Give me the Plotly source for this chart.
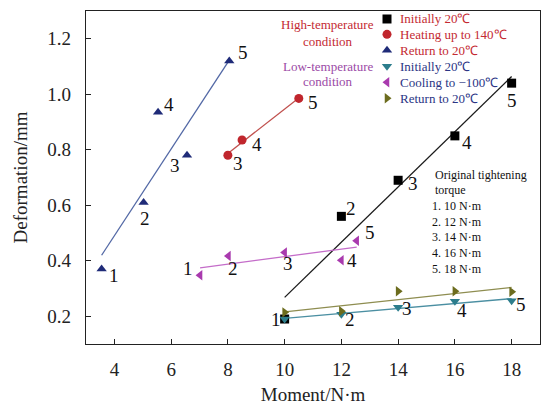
import numpy as np
import plotly.graph_objects as go

# ---------------- data ----------------
labels_num = ["1", "2", "3", "4", "5"]

# High-temperature condition
hi_init_x = [10, 12, 14, 16, 18]
hi_init_y = [0.19, 0.56, 0.69, 0.85, 1.04]
hi_heat_x = [8.0, 8.5, 10.5]
hi_heat_y = [0.78, 0.835, 0.985]
hi_heat_lab = ["3", "4", "5"]
hi_ret_x = [3.55, 5.03, 6.56, 5.54, 8.05]
hi_ret_y = [0.37, 0.61, 0.78, 0.935, 1.12]

# Low-temperature condition
lo_init_x = [10, 12, 14, 16, 18]
lo_init_y = [0.19, 0.207, 0.232, 0.254, 0.256]
lo_cool_x = [7.02, 8.02, 10.0, 12.0, 12.54]
lo_cool_y = [0.348, 0.417, 0.43, 0.402, 0.472]
lo_ret_x = [10, 12, 14, 16, 18]
lo_ret_y = [0.214, 0.218, 0.29, 0.29, 0.288]

torque_lines = ["1. 10 N·m", "2. 12 N·m", "3. 14 N·m", "4. 16 N·m", "5. 18 N·m"]

legend_names = ["Initially 20℃", "Heating up to 140℃", "Return to 20℃",
                "Initially 20℃", "Cooling to −100℃", "Return to 20℃"]

FONT = "Liberation Serif"
RED_TXT = "#c42a32"
BLUE_TXT = "#2b3585"
PURPLE_TXT = "#9b4aa6"

series = [
    dict(x=hi_init_x, y=hi_init_y, sym="square", mc="#000000", lc="#1a1a1a"),
    dict(x=hi_heat_x, y=hi_heat_y, sym="circle", mc="#c0262d", lc="#c0504d"),
    dict(x=hi_ret_x, y=hi_ret_y, sym="triangle-up", mc="#1f2b78", lc="#5268a5"),
    dict(x=lo_init_x, y=lo_init_y, sym="triangle-down", mc="#2c7d8c", lc="#4b8fa2"),
    dict(x=lo_cool_x, y=lo_cool_y, sym="triangle-left", mc="#a93aae", lc="#c46cc9"),
    dict(x=lo_ret_x, y=lo_ret_y, sym="triangle-right", mc="#6c6c1e", lc="#8e8d50"),
]

fig = go.Figure()

# regression lines
for s in series:
    xs = np.array(s["x"], float)
    ys = np.array(s["y"], float)
    k, b = np.polyfit(xs, ys, 1)
    xl = np.array([xs.min(), xs.max()])
    fig.add_trace(go.Scatter(x=xl, y=k * xl + b, mode="lines",
                             line=dict(color=s["lc"], width=1.3),
                             showlegend=False, hoverinfo="skip"))
# markers
for s in series:
    fig.add_trace(go.Scatter(x=s["x"], y=s["y"], mode="markers",
                             marker=dict(symbol=s["sym"], color=s["mc"], size=9,
                                         line=dict(width=0)),
                             showlegend=False))

# legend keys on an overlay axis (fractions of plot area)
leg_x = 0.663
leg_y = [0.976, 0.930, 0.882, 0.834, 0.786, 0.738]
for i, s in enumerate(series):
    fig.add_trace(go.Scatter(x=[leg_x], y=[leg_y[i]], xaxis="x2", yaxis="y2",
                             mode="markers",
                             marker=dict(symbol=s["sym"], color=s["mc"], size=9,
                                         line=dict(width=0)),
                             showlegend=False, hoverinfo="skip"))
annotations = []
for i, name in enumerate(legend_names):
    annotations.append(dict(x=0.687, y=leg_y[i], xref="paper", yref="paper",
                            text=name, showarrow=False, xanchor="left", yanchor="middle",
                            font=dict(family=FONT, size=13,
                                      color=RED_TXT if i < 3 else BLUE_TXT)))
# group labels
for txt, yy, col in [("High-temperature", 0.960, RED_TXT), ("condition", 0.909, RED_TXT),
                     ("Low-temperature", 0.834, PURPLE_TXT), ("condition", 0.787, PURPLE_TXT)]:
    annotations.append(dict(x=0.532, y=yy, xref="paper", yref="paper", text=txt,
                            showarrow=False, xanchor="center", yanchor="middle",
                            font=dict(family=FONT, size=13, color=col)))

# original tightening torque block
block = [("Original tightening", 0.508, 0.764), ("torque", 0.463, 0.764)]
for j, t in enumerate(torque_lines):
    block.append((t, 0.415 - j * 0.0475, 0.758))
for txt, yy, xx in block:
    annotations.append(dict(x=xx, y=yy, xref="paper", yref="paper", text=txt,
                            showarrow=False, xanchor="left", yanchor="middle",
                            font=dict(family=FONT, size=12, color="#111111")))

# point number labels (pixel offsets: dx right, dy down)
def add_labels(xs, ys, labs, offs):
    for x, y, l, (dx, dy) in zip(xs, ys, labs, offs):
        if l is None:
            continue
        annotations.append(dict(x=x, y=y, xref="x", yref="y", text=l, showarrow=False,
                                xshift=dx, yshift=-dy,
                                font=dict(family=FONT, size=19, color="#111111")))

add_labels(hi_ret_x, hi_ret_y, labels_num,
           [(12, 6), (1, 16), (-12, 10), (11, -8), (14, -8)])
add_labels(hi_heat_x, hi_heat_y, hi_heat_lab, [(10, 8), (15, 4), (14, 4)])
add_labels(hi_init_x, hi_init_y, labels_num,
           [(-9, 0), (10, -8), (15, 3), (12, 7), (0, 17)])
add_labels(lo_cool_x, lo_cool_y, labels_num,
           [(-12, -7), (5, 12), (3, 11), (11, 0), (13, -8)])
add_labels(lo_init_x, lo_init_y, [None, "2", "3", "4", "5"],
           [(0, 0), (9, 5), (9, 1), (7, 9), (9, 4)])

axis_common = dict(showline=True, linecolor="#222222", linewidth=1.2, mirror=True,
                   ticks="inside", ticklen=5, tickcolor="#222222", showgrid=False,
                   zeroline=False,
                   tickfont=dict(family=FONT, size=19, color="#222222"))

fig.update_layout(
    width=542, height=410,
    margin=dict(l=86, r=2, t=11, b=66),
    paper_bgcolor="white", plot_bgcolor="white",
    showlegend=False,
    xaxis=dict(range=[3, 19], tickvals=[4, 6, 8, 10, 12, 14, 16, 18],
               title=dict(text="Moment/N·m", font=dict(family=FONT, size=19, color="#222222"),
                          standoff=8),
               ticklabelstandoff=8, **axis_common),
    yaxis=dict(range=[0.1, 1.3], tickvals=[0.2, 0.4, 0.6, 0.8, 1.0, 1.2], tickformat=".1f",
               title=dict(text="Deformation/mm", font=dict(family=FONT, size=19, color="#222222"),
                          standoff=14),
               ticklabelstandoff=10, **axis_common),
    xaxis2=dict(range=[0, 1], overlaying="x", visible=False, fixedrange=True),
    yaxis2=dict(range=[0, 1], overlaying="y", visible=False, fixedrange=True),
    annotations=annotations,
)

fig.write_html("out.html")
